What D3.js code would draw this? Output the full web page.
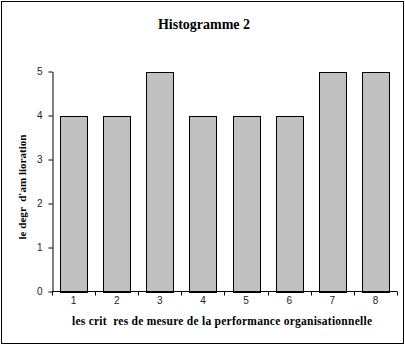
<!DOCTYPE html>
<html><head><meta charset="utf-8">
<script src="https://cdn.jsdelivr.net/npm/d3@7"></script>
<style>
html,body{margin:0;padding:0;background:#fff;}
svg{display:block;}
.serif{font-family:'Liberation Serif','Times New Roman',serif;font-weight:bold;}
.sans{font-family:'Liberation Sans',Arial,sans-serif;}
</style></head>
<body>
<svg id="chart" width="405" height="346"></svg>
<script>
const categories = ["1","2","3","4","5","6","7","8"];
const values = [4,4,5,4,4,4,5,5];
const yTicks = [0,1,2,3,4,5];
const title = "Histogramme 2";
const xTitle = "les crit  res de mesure de la performance organisationnelle";
const yTitle = "le degr  d'am lioration";

(function(){
const svg = d3.select("#chart");
svg.append("rect").attr("x",1.5).attr("y",1.5).attr("width",402).attr("height",342)
  .attr("fill","#fff").attr("stroke","#000").attr("stroke-width",1);

const mLeft = 52, mRight = 397, mTop = 71.5, mBottom = 291.5;
const x = d3.scaleBand().domain(categories).range([mLeft,mRight]).paddingInner(0.374).paddingOuter(0.187);
const y = d3.scaleLinear().domain([0,5]).range([mBottom,mTop]);

svg.append("g").selectAll("rect").data(values).join("rect")
  .attr("x",(d,i)=>Math.round(x(categories[i]))+0.5)
  .attr("y",d=>Math.round(y(d))+0.5)
  .attr("width",Math.round(x.bandwidth()))
  .attr("height",d=>Math.round(y(0))-Math.round(y(d)))
  .attr("fill","#c0c0c0").attr("stroke","#000").attr("stroke-width",1);

const ya = svg.append("g").attr("transform",`translate(${mLeft+0.5},0)`)
  .call(d3.axisLeft(y).tickValues(yTicks).tickSize(4).tickSizeOuter(0).tickPadding(6).tickFormat(d3.format("d")));
ya.attr("font-family",null).attr("font-size",null);
ya.selectAll("text").attr("class","sans").attr("font-size",10).attr("fill","#222");
ya.selectAll("line,path").attr("stroke","#000");

const xa = svg.append("g").attr("transform",`translate(0,${mBottom})`);
xa.append("line").attr("x1",mLeft).attr("x2",mRight).attr("y1",0).attr("y2",0).attr("stroke","#000");
const bounds = categories.map(c=>x(c)-x.step()*x.paddingInner()/2).concat([mRight]);
xa.selectAll("line.t").data(bounds).join("line").attr("class","t")
  .attr("x1",d=>Math.round(d)+0.5).attr("x2",d=>Math.round(d)+0.5).attr("y1",0).attr("y2",4).attr("stroke","#000");
xa.selectAll("text").data(categories).join("text").attr("class","sans")
  .attr("x",d=>x(d)+x.bandwidth()/2).attr("y",12)
  .attr("text-anchor","middle").attr("font-size",10).attr("fill","#222")
  .text(d=>d);

svg.append("text").attr("class","serif").attr("x",204).attr("y",29).attr("text-anchor","middle")
  .attr("font-size",14).text(title);

svg.append("text").attr("class","serif").attr("x",222).attr("y",325).attr("text-anchor","middle")
  .attr("font-size",11.5).attr("textLength",300).attr("lengthAdjust","spacing")
  .style("white-space","pre").text(xTitle);

svg.append("text").attr("class","serif").attr("transform","translate(26,187) rotate(-90)").attr("text-anchor","middle")
  .attr("font-size",11).attr("textLength",105).attr("lengthAdjust","spacing")
  .style("white-space","pre").text(yTitle);
})();
</script>
</body></html>
